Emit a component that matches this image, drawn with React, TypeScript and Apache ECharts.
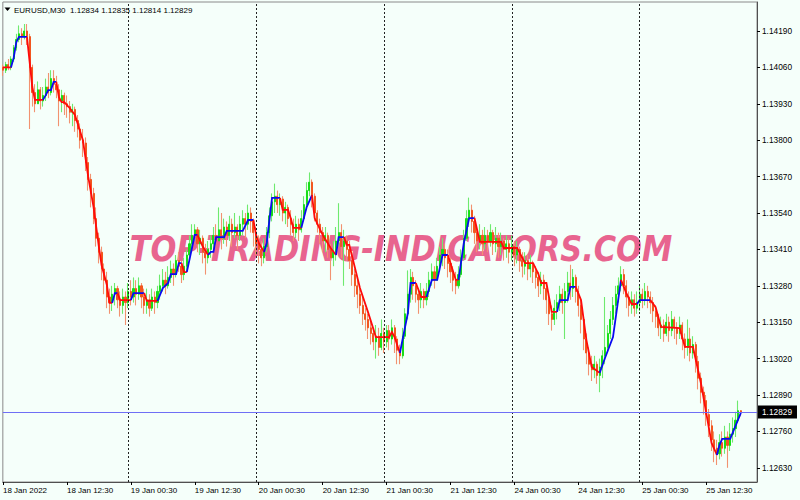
import React, { useEffect, useRef } from "react";
import * as echarts from "echarts";

const symbolName = "EURUSD,M30";
const watermarkText = "TOP-TRADING-INDICATORS.COM";

// Bar index 1..278 (M30 bars from 18 Jan 2022); open of each bar = previous close
const firstOpen = 1.1406;
const closes = [
  1.1405, 1.1407, 1.1406, 1.1409, 1.1413, 1.1416, 1.1418, 1.1417, 1.1419, 1.1417,
  1.1406, 1.1397, 1.1393, 1.1398, 1.1394, 1.1396, 1.1399, 1.1397, 1.1402, 1.14,
  1.1398, 1.1394, 1.1396, 1.1393, 1.1392, 1.139, 1.1391, 1.1387, 1.1384, 1.138,
  1.1379, 1.1372, 1.1366, 1.1361, 1.1352, 1.1345, 1.134, 1.1334, 1.133, 1.1324,
  1.1322, 1.1325, 1.1327, 1.1323, 1.1321, 1.1324, 1.1322, 1.1326, 1.1324, 1.1327,
  1.1325, 1.1328, 1.1324, 1.1321, 1.1323, 1.132, 1.1324, 1.1322, 1.1326, 1.1328,
  1.133, 1.1328, 1.1331, 1.1334, 1.1332, 1.1337, 1.1335, 1.1332, 1.1335, 1.1339,
  1.1343, 1.1346, 1.1348, 1.1343, 1.1345, 1.134, 1.1338, 1.1341, 1.1343, 1.1346,
  1.1344, 1.1348, 1.1345, 1.1349, 1.1346, 1.135, 1.1347, 1.1349, 1.1346, 1.135,
  1.1352, 1.135, 1.1354, 1.1351, 1.1347, 1.1343, 1.1341, 1.1338, 1.1342, 1.1347,
  1.1353, 1.1358, 1.136, 1.1357, 1.1359, 1.1354, 1.1356, 1.1352, 1.135, 1.1347,
  1.135, 1.1348, 1.1352, 1.1357, 1.1362, 1.1365, 1.136, 1.1354, 1.135, 1.1347,
  1.1344, 1.1346, 1.1341, 1.1338, 1.134, 1.1344, 1.1347, 1.1342, 1.1344, 1.1341,
  1.1337, 1.1332, 1.1328, 1.1325, 1.1321, 1.1318, 1.1316, 1.1313, 1.1311, 1.1308,
  1.131, 1.1306, 1.1311, 1.1308, 1.1312, 1.1309, 1.1313, 1.1309, 1.1305, 1.1303,
  1.131, 1.1318, 1.1325, 1.1331, 1.1328, 1.1325, 1.1323, 1.1326, 1.1323, 1.1326,
  1.133, 1.1333, 1.133, 1.1335, 1.1339, 1.1341, 1.1338, 1.1336, 1.1333, 1.133,
  1.1328, 1.1332, 1.1338, 1.1345, 1.1352, 1.1355, 1.1351, 1.1347, 1.1344, 1.1346,
  1.1343, 1.1346, 1.1344, 1.1347, 1.1343, 1.1345, 1.1342, 1.1344, 1.1341, 1.1343,
  1.134, 1.1342, 1.1339, 1.1341, 1.1337, 1.1335, 1.1337, 1.1334, 1.1336, 1.1333,
  1.1331, 1.1328, 1.133, 1.1327, 1.1323, 1.1318, 1.1316, 1.132, 1.1322, 1.1325,
  1.1322, 1.1326, 1.1329, 1.1327, 1.1331, 1.1326, 1.1321, 1.1316, 1.1309, 1.1304,
  1.13, 1.1298, 1.13, 1.1296, 1.1299, 1.1303, 1.1306, 1.1311, 1.1316, 1.1321,
  1.1325, 1.1328, 1.1332, 1.1328, 1.1324, 1.1321, 1.1323, 1.132, 1.1322, 1.1325,
  1.1323, 1.1326, 1.1324, 1.1322, 1.1319, 1.1317, 1.1313, 1.1314, 1.1311, 1.1315,
  1.1312, 1.1316, 1.1313, 1.1311, 1.1314, 1.1309, 1.1306, 1.1309, 1.1304, 1.1307,
  1.1301, 1.1295, 1.129, 1.1287, 1.1282, 1.1278, 1.1273, 1.127, 1.1268, 1.1272,
  1.127, 1.1274, 1.1271, 1.1275, 1.1277, 1.128, 1.12834, 1.12829,
];
const highs = [
  1.1407, 1.1408, 1.1409, 1.141, 1.1414, 1.1418, 1.1421, 1.142, 1.14215, 1.14215,
  1.1418, 1.1407, 1.14, 1.1401, 1.1399, 1.1399, 1.1402, 1.1404, 1.1405, 1.1405,
  1.1403, 1.14, 1.1398, 1.1397, 1.1396, 1.1394, 1.1393, 1.1392, 1.1389, 1.1386,
  1.1384, 1.1381, 1.1374, 1.1368, 1.1363, 1.1356, 1.1347, 1.1342, 1.1336, 1.1333,
  1.1327, 1.1328, 1.1329, 1.1328, 1.1326, 1.1327, 1.1326, 1.1329, 1.133, 1.1331,
  1.133, 1.1331, 1.1329, 1.1327, 1.1327, 1.1325, 1.1327, 1.1326, 1.1328, 1.1332,
  1.1334, 1.1333, 1.1335, 1.1337, 1.1336, 1.1339, 1.134, 1.1337, 1.1338, 1.1341,
  1.1346, 1.135, 1.135, 1.1349, 1.1348, 1.1346, 1.1343, 1.1344, 1.1346, 1.1349,
  1.135, 1.1356, 1.1354, 1.1352, 1.1351, 1.1353, 1.1352, 1.1354, 1.135, 1.1353,
  1.1355, 1.1354, 1.1357, 1.1356, 1.1352, 1.1349, 1.1346, 1.1344, 1.1345, 1.1349,
  1.1356, 1.1361, 1.13645, 1.1362, 1.1361, 1.136, 1.1358, 1.1357, 1.1355, 1.1352,
  1.1353, 1.1352, 1.1355, 1.136, 1.1365, 1.13685, 1.1366, 1.1361, 1.1355, 1.1352,
  1.1349, 1.1349, 1.1347, 1.1343, 1.1344, 1.1349, 1.13575, 1.135, 1.1348, 1.1346,
  1.1344, 1.1339, 1.1334, 1.133, 1.1327, 1.1324, 1.132, 1.1318, 1.1316, 1.1313,
  1.1314, 1.1313, 1.1316, 1.1313, 1.1314, 1.1314, 1.1316, 1.1314, 1.131, 1.1307,
  1.1313, 1.132, 1.13335, 1.1334, 1.1333, 1.133, 1.1327, 1.1329, 1.1327, 1.1329,
  1.1333, 1.1336, 1.1335, 1.1338, 1.1342, 1.1345, 1.1343, 1.1341, 1.1338, 1.1335,
  1.1333, 1.1335, 1.1341, 1.1348, 1.1355, 1.13595, 1.1357, 1.1353, 1.1349, 1.135,
  1.1348, 1.1349, 1.1348, 1.135, 1.1348, 1.1349, 1.1347, 1.1347, 1.1345, 1.1346,
  1.1345, 1.1346, 1.1344, 1.1344, 1.1342, 1.134, 1.134, 1.1339, 1.1339, 1.1337,
  1.1335, 1.1333, 1.1333, 1.1332, 1.1329, 1.1324, 1.1321, 1.1323, 1.1325, 1.1328,
  1.1327, 1.1329, 1.1333, 1.13355, 1.1334, 1.1332, 1.1328, 1.1323, 1.1317, 1.1311,
  1.1306, 1.1303, 1.1303, 1.1301, 1.1302, 1.1305, 1.1324, 1.1314, 1.1319, 1.1324,
  1.1328, 1.1331, 1.1335, 1.1334, 1.133, 1.1326, 1.1326, 1.1325, 1.1326, 1.1328,
  1.1327, 1.1329, 1.1328, 1.1326, 1.1324, 1.1321, 1.1318, 1.1317, 1.1316, 1.1318,
  1.1317, 1.1319, 1.1317, 1.1315, 1.1317, 1.1315, 1.1311, 1.1316, 1.1313, 1.131,
  1.1308, 1.1303, 1.1297, 1.1292, 1.1289, 1.1284, 1.128, 1.1276, 1.1273, 1.1275,
  1.1276, 1.1278, 1.1276, 1.1279, 1.1281, 1.1283, 1.1287, 1.12835,
];
const lows = [
  1.1403, 1.1404, 1.1405, 1.1405, 1.1408, 1.1412, 1.1415, 1.1414, 1.1416, 1.1414,
  1.1384, 1.1392, 1.139, 1.1393, 1.1391, 1.1392, 1.1394, 1.1395, 1.1396, 1.1397,
  1.1395, 1.1385, 1.139, 1.1389, 1.1388, 1.1386, 1.1385, 1.1383, 1.1381, 1.1377,
  1.1374, 1.1369, 1.1362, 1.1356, 1.135, 1.1342, 1.1336, 1.133, 1.1325, 1.132,
  1.1318, 1.1319, 1.1321, 1.132, 1.1317, 1.1318, 1.1314, 1.132, 1.1321, 1.1322,
  1.1321, 1.1323, 1.132, 1.1318, 1.1318, 1.1317, 1.1319, 1.1318, 1.132, 1.1323,
  1.1326, 1.1325, 1.1327, 1.1329, 1.1328, 1.1331, 1.1333, 1.1329, 1.133, 1.1333,
  1.1337, 1.1341, 1.1344, 1.134, 1.1339, 1.1336, 1.1332, 1.1336, 1.1338, 1.1341,
  1.1342, 1.1344, 1.1341, 1.1343, 1.1342, 1.1344, 1.1342, 1.1345, 1.1341, 1.1344,
  1.1346, 1.1345, 1.1348, 1.1347, 1.1342, 1.1339, 1.1336, 1.1335, 1.1336, 1.134,
  1.1345, 1.1351, 1.1354, 1.1354, 1.1353, 1.1351, 1.135, 1.1349, 1.1346, 1.1344,
  1.1345, 1.1344, 1.1347, 1.1351, 1.1355, 1.136, 1.1356, 1.1351, 1.1347, 1.1343,
  1.134, 1.134, 1.1338, 1.133, 1.1335, 1.1337, 1.1342, 1.1338, 1.1328, 1.1337,
  1.1334, 1.1328, 1.1324, 1.132, 1.1318, 1.1314, 1.1312, 1.1309, 1.1307, 1.1305,
  1.1302, 1.1303, 1.1305, 1.1304, 1.1306, 1.1305, 1.1307, 1.1304, 1.13, 1.13,
  1.1302, 1.1309, 1.1316, 1.1322, 1.1323, 1.1322, 1.1318, 1.132, 1.132, 1.1321,
  1.1324, 1.1328, 1.1327, 1.133, 1.1333, 1.1335, 1.1334, 1.1331, 1.1329, 1.1326,
  1.1325, 1.1327, 1.1331, 1.1337, 1.1344, 1.1349, 1.1347, 1.1343, 1.134, 1.1341,
  1.1339, 1.1341, 1.134, 1.1342, 1.1339, 1.134, 1.1338, 1.1339, 1.1337, 1.1338,
  1.1336, 1.1337, 1.1335, 1.1336, 1.1333, 1.1331, 1.1332, 1.133, 1.1331, 1.1329,
  1.1327, 1.1324, 1.1325, 1.1323, 1.1318, 1.1314, 1.1312, 1.1314, 1.1316, 1.1319,
  1.1318, 1.1309, 1.1322, 1.1323, 1.1324, 1.1322, 1.1317, 1.1311, 1.1305, 1.13,
  1.1296, 1.1294, 1.1295, 1.1293, 1.129, 1.1295, 1.13, 1.1305, 1.1309, 1.1314,
  1.1318, 1.1322, 1.1326, 1.1325, 1.132, 1.1317, 1.1318, 1.1317, 1.1318, 1.1319,
  1.132, 1.1321, 1.132, 1.1318, 1.1315, 1.1313, 1.131, 1.1309, 1.1308, 1.131,
  1.1308, 1.131, 1.1309, 1.1307, 1.1309, 1.1305, 1.1302, 1.1303, 1.1301, 1.1302,
  1.1297, 1.1291, 1.1286, 1.1282, 1.1278, 1.1274, 1.1269, 1.1265, 1.1264, 1.1266,
  1.1267, 1.1268, 1.1263, 1.1269, 1.1272, 1.1274, 1.1279, 1.12814,
];

// Trend indicator breakpoints: [bar, value, direction]
const trendPoints: [number, number, string][] = [
  [1, 1.1406, "d"], [4, 1.1406, "d"], [5, 1.14094, "u"], [6, 1.1415, "u"], [7, 1.14169, "u"], [10, 1.14169, "u"],
  [11, 1.1408, "d"], [12, 1.1399, "d"], [13, 1.13944, "d"], [16, 1.13944, "d"], [17, 1.1396, "u"], [18, 1.13979, "u"],
  [19, 1.13979, "u"], [20, 1.14008, "u"], [21, 1.14008, "u"], [22, 1.13954, "d"], [23, 1.13936, "d"], [24, 1.13936, "d"],
  [26, 1.13915, "d"], [28, 1.1389, "d"], [30, 1.1383, "d"], [31, 1.138, "d"], [33, 1.13669, "d"], [35, 1.13561, "d"],
  [37, 1.13419, "d"], [38, 1.13354, "d"], [40, 1.13283, "d"], [41, 1.13219, "d"], [42, 1.13219, "d"], [43, 1.13254, "u"],
  [44, 1.13254, "u"], [45, 1.13229, "d"], [49, 1.13229, "d"], [50, 1.13254, "u"], [54, 1.13254, "u"], [55, 1.13226, "d"],
  [59, 1.13226, "d"], [61, 1.13272, "u"], [63, 1.1329, "u"], [64, 1.13322, "u"], [66, 1.13322, "u"], [67, 1.13361, "u"],
  [68, 1.13361, "u"], [69, 1.13329, "d"], [70, 1.13329, "d"], [73, 1.13462, "u"], [74, 1.13462, "u"], [76, 1.1342, "d"],
  [78, 1.1339, "d"], [79, 1.13401, "u"], [80, 1.13401, "u"], [81, 1.13454, "u"], [84, 1.13454, "u"], [85, 1.13476, "u"],
  [91, 1.13476, "u"], [93, 1.13515, "u"], [95, 1.13515, "u"], [96, 1.13462, "d"], [97, 1.13433, "d"], [99, 1.13401, "d"],
  [100, 1.13433, "u"], [102, 1.13594, "u"], [105, 1.13594, "u"], [106, 1.13551, "d"], [108, 1.13551, "d"], [109, 1.13522, "d"],
  [110, 1.13487, "d"], [113, 1.13487, "d"], [115, 1.13561, "u"], [117, 1.13604, "u"], [118, 1.13522, "d"], [121, 1.13462, "d"],
  [124, 1.13415, "d"], [126, 1.1339, "d"], [127, 1.13454, "u"], [129, 1.13454, "u"], [130, 1.13426, "d"], [131, 1.13426, "d"],
  [135, 1.13272, "d"], [138, 1.13187, "d"], [141, 1.13097, "d"], [146, 1.13097, "d"], [147, 1.13115, "d"], [148, 1.13097, "d"],
  [150, 1.1304, "d"], [153, 1.13183, "u"], [154, 1.1329, "u"], [156, 1.1329, "u"], [158, 1.1324, "d"], [160, 1.1324, "d"],
  [162, 1.13301, "u"], [164, 1.13301, "u"], [165, 1.13344, "u"], [166, 1.1339, "u"], [168, 1.1339, "u"], [171, 1.13301, "d"],
  [172, 1.13301, "d"], [174, 1.13433, "u"], [176, 1.13522, "u"], [178, 1.13522, "u"], [180, 1.13437, "d"], [188, 1.13437, "d"],
  [189, 1.13415, "d"], [194, 1.13415, "d"], [197, 1.13361, "d"], [200, 1.13361, "d"], [202, 1.13322, "d"], [203, 1.1329, "d"],
  [205, 1.1329, "d"], [207, 1.13187, "d"], [209, 1.13187, "d"], [210, 1.13229, "u"], [213, 1.13229, "u"], [214, 1.13276, "u"],
  [216, 1.13276, "u"], [218, 1.13229, "d"], [220, 1.13087, "d"], [222, 1.1299, "d"], [225, 1.12969, "d"], [227, 1.13022, "u"],
  [230, 1.13097, "u"], [233, 1.13301, "u"], [235, 1.13254, "d"], [237, 1.13215, "d"], [239, 1.13215, "d"], [240, 1.13229, "u"],
  [244, 1.13229, "u"], [246, 1.13204, "d"], [248, 1.13133, "d"], [255, 1.13129, "d"], [257, 1.13062, "d"], [260, 1.13062, "d"],
  [263, 1.12933, "d"], [265, 1.12826, "d"], [267, 1.12719, "d"], [269, 1.12676, "d"], [270, 1.12712, "u"], [271, 1.12733, "u"],
  [274, 1.12733, "u"], [278, 1.12826, "u"],
];

const priceTicks = [1.1263, 1.1276, 1.1289, 1.1302, 1.1315, 1.1328, 1.1341, 1.1354, 1.1367, 1.138, 1.1393, 1.1406, 1.1419];
const timeTickBars = [1, 25, 49, 73, 97, 121, 145, 169, 193, 217, 241, 265];
const timeTickLabels = [
  "18 Jan 2022", "18 Jan 12:30", "19 Jan 00:30", "19 Jan 12:30", "20 Jan 00:30", "20 Jan 12:30",
  "21 Jan 00:30", "21 Jan 12:30", "24 Jan 00:30", "24 Jan 12:30", "25 Jan 00:30", "25 Jan 12:30",
];
const daySeparatorBars = [48, 96, 144, 192, 240];

const FONT = "Liberation Sans";
const UP_BODY = "#18DE18";
const UP_WICK = "#6EEA6E";
const DOWN_BODY = "#F2561F";
const DOWN_WICK = "#F29270";

function buildOption() {
  const n = closes.length;
  const opens = closes.map((c, k) => (k === 0 ? firstOpen : closes[k - 1]));
  const wickData = closes.map((c, k) => [k + 1, opens[k], c, lows[k], highs[k]]);
  const bodyData = closes.map((c, k) => [k + 1, opens[k], c, Math.min(opens[k], c), Math.max(opens[k], c)]);

  const runs: { dir: string; coords: number[][] }[] = [];
  for (let k = 1; k < trendPoints.length; k++) {
    const [b0, v0] = trendPoints[k - 1];
    const [b1, v1, d] = trendPoints[k];
    const last = runs[runs.length - 1];
    if (last && last.dir === d) last.coords.push([b1, v1]);
    else runs.push({ dir: d, coords: [[b0, v0], [b1, v1]] });
  }
  const trendData = runs.map((r) => ({
    coords: r.coords,
    lineStyle: { color: r.dir === "u" ? "#0A0AF0" : "#FF0A0A", width: 1.8, opacity: 1 },
  }));

  const lastOpen = opens[n - 1];
  const lastHigh = highs[n - 1];
  const lastLow = lows[n - 1];
  const lastClose = closes[n - 1];
  const f5 = (v: number) => v.toFixed(5);
  const header = `${symbolName}\u00a0 ${f5(lastOpen)} ${f5(lastHigh)} ${f5(lastLow)} ${f5(lastClose)}`;

  return {
    animation: false,
    backgroundColor: "#F5FFFA",
    grid: {
      left: 2, right: 43, top: 2, bottom: 18,
      show: true, borderColor: "#8a8a8a", borderWidth: 1, backgroundColor: "transparent",
    },
    xAxis: {
      type: "value",
      min: 0.9375,
      max: 284.06,
      axisLine: { show: true, onZero: false, lineStyle: { color: "#505050", width: 1 } },
      axisTick: { show: true, customValues: timeTickBars, length: 3, lineStyle: { color: "#000" } },
      axisLabel: {
        customValues: timeTickBars,
        formatter: (v: number) => {
          const k = timeTickBars.findIndex((b) => Math.abs(b - v) < 0.01);
          return k >= 0 ? timeTickLabels[k] : "";
        },
        align: "left",
        margin: 4,
        fontSize: 8,
        fontFamily: FONT,
        color: "#000",
      },
      splitLine: { show: false },
    },
    yAxis: {
      type: "value",
      position: "right",
      min: 1.125793,
      max: 1.142936,
      axisLine: { show: true, onZero: false, lineStyle: { color: "#505050", width: 1 } },
      axisTick: { show: true, customValues: priceTicks, length: 3, lineStyle: { color: "#000" } },
      axisLabel: {
        customValues: priceTicks,
        formatter: (v: number) => v.toFixed(5),
        margin: 5,
        fontSize: 8.3,
        fontFamily: FONT,
        color: "#000",
      },
      splitLine: { show: false },
    },
    graphic: [
      {
        type: "text",
        x: 401,
        y: 249,
        scaleX: 0.87,
        z: 0,
        silent: true,
        style: {
          text: watermarkText,
          fill: "#E8648F",
          font: 'italic bold 35px "DejaVu Sans"',
          align: "center",
          verticalAlign: "middle",
        },
      },
      {
        type: "polygon",
        z: 100,
        silent: true,
        shape: { points: [[4.5, 7.5], [10.5, 7.5], [7.5, 11]] },
        style: { fill: "#000" },
      },
      {
        type: "text",
        x: 14,
        y: 10,
        z: 100,
        silent: true,
        style: { text: header, fill: "#000", font: `8px "${FONT}"`, verticalAlign: "middle" },
      },
    ],
    series: [
      {
        type: "candlestick",
        name: "wicks",
        data: wickData,
        barWidth: 0.6,
        silent: true,
        z: 2,
        itemStyle: {
          color: UP_WICK, color0: DOWN_WICK, borderColor: UP_WICK, borderColor0: DOWN_WICK,
          borderColorDoji: UP_WICK, borderWidth: 1.1,
        },
      },
      {
        type: "candlestick",
        name: "bodies",
        data: bodyData,
        barWidth: 1.6,
        silent: true,
        z: 3,
        itemStyle: {
          color: UP_BODY, color0: DOWN_BODY, borderColor: UP_BODY, borderColor0: DOWN_BODY,
          borderColorDoji: UP_BODY, borderWidth: 1,
        },
      },
      {
        type: "lines",
        coordinateSystem: "cartesian2d",
        polyline: true,
        silent: true,
        z: 4,
        lineStyle: { width: 1.8, opacity: 1 },
        data: trendData,
      },
      {
        type: "line",
        name: "markers",
        data: [[n, lastClose]],
        symbol: "none",
        silent: true,
        lineStyle: { opacity: 0 },
        z: 5,
        markLine: {
          silent: true,
          symbol: ["none", "none"],
          precision: 5,
          animation: false,
          label: { show: false },
          lineStyle: { type: [2, 2], color: "#222", width: 1 },
          data: [
            ...daySeparatorBars.map((b) => ({ xAxis: b })),
            {
              yAxis: lastClose,
              lineStyle: { type: "solid", color: "#6F6FF5", width: 1 },
              label: {
                show: true,
                position: "end",
                distance: 1,
                formatter: f5(lastClose),
                backgroundColor: "#000",
                color: "#fff",
                padding: [3, 5, 2, 4],
                fontSize: 8.3,
                fontFamily: FONT,
              },
            },
          ],
        },
      },
    ],
  };
}

export default function App() {
  const ref = useRef<HTMLDivElement>(null);
  useEffect(() => {
    if (!ref.current) return;
    const chart = echarts.init(ref.current, undefined, { renderer: "svg" });
    chart.setOption(buildOption() as any);
    return () => chart.dispose();
  }, []);
  return (
    <div
      ref={ref}
      style={{ position: "fixed", left: 0, top: 0, width: 800, height: 500, background: "#F5FFFA" }}
    />
  );
}
